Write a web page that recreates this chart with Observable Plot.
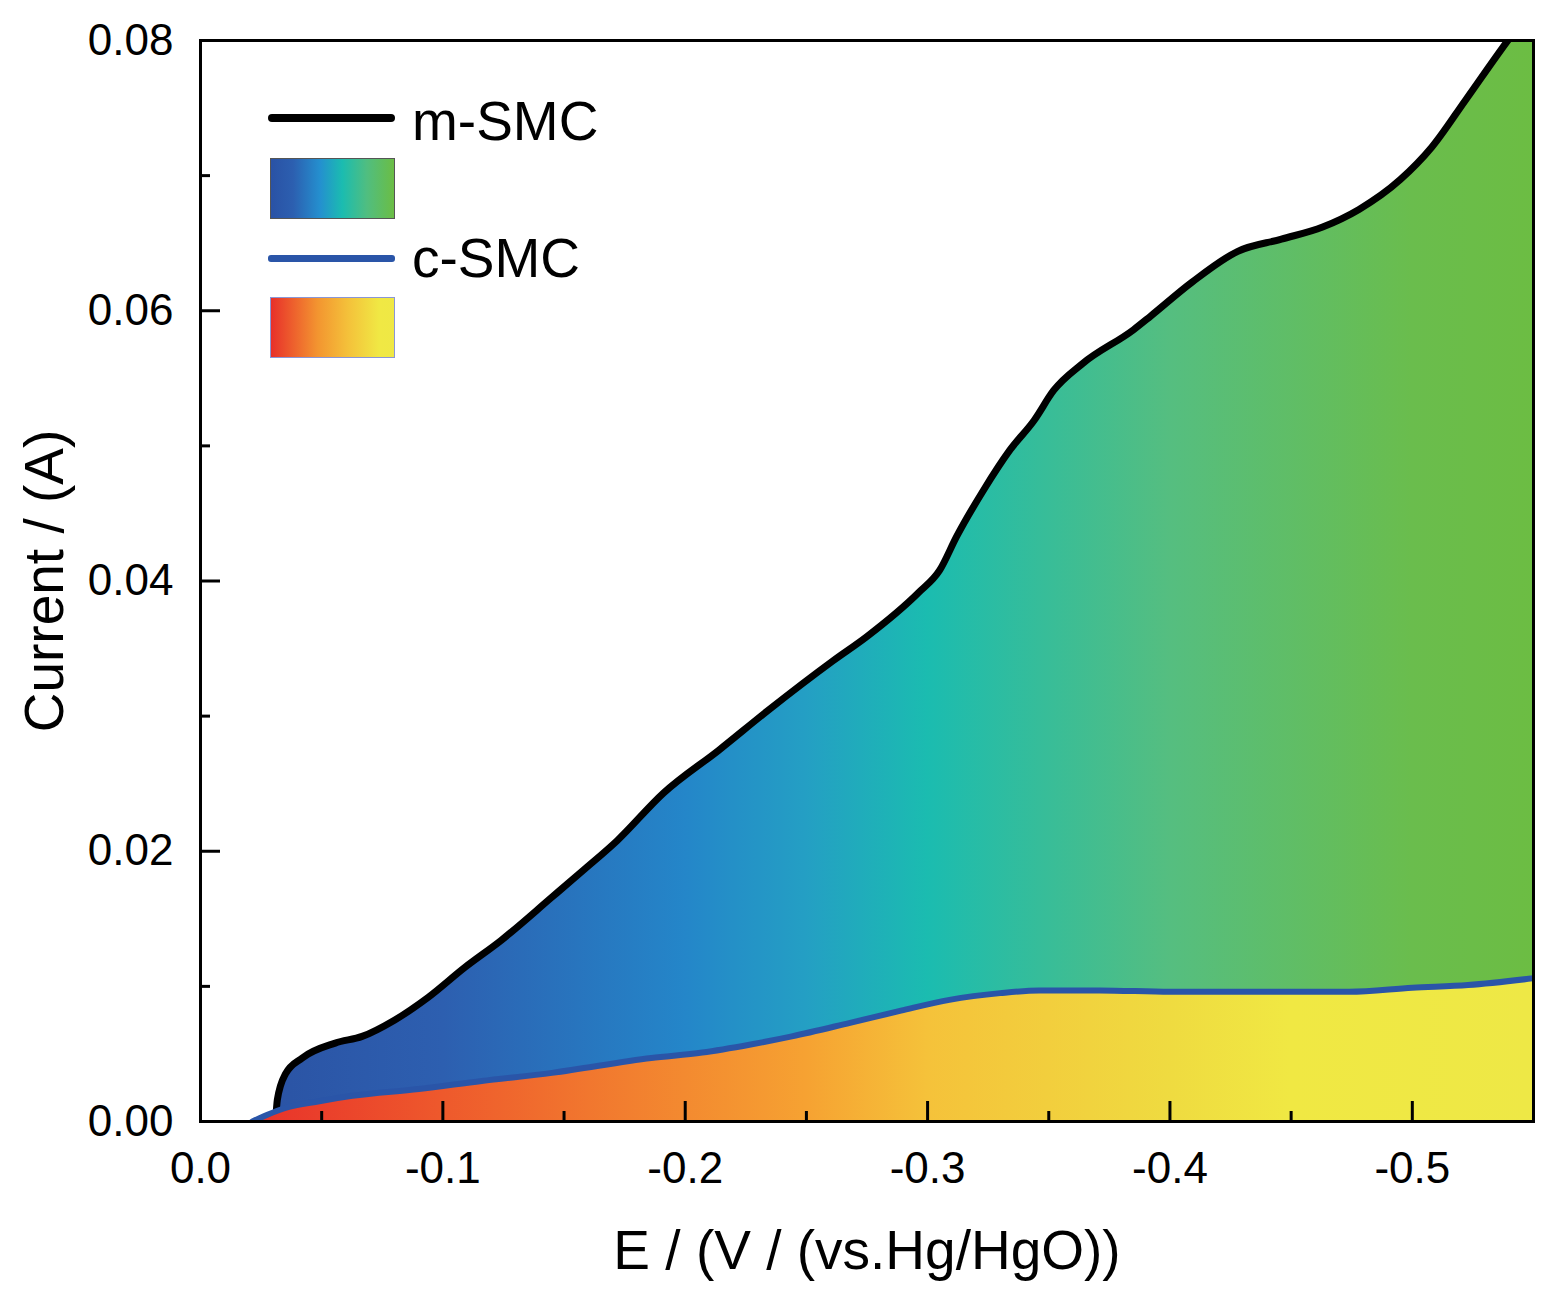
<!DOCTYPE html>
<html>
<head>
<meta charset="utf-8">
<script src="https://cdn.jsdelivr.net/npm/d3@7"></script>
<script src="https://cdn.jsdelivr.net/npm/@observablehq/plot@0.6"></script>
<style>
  body { margin: 0; background: white; font-family: "Liberation Sans", Arial, sans-serif; }
  #wrap { position: relative; width: 1560px; height: 1300px; }
  #legend div { position: absolute; }
  .lab { font-size: 55px; line-height: 55px; color: black; }
</style>
</head>
<body>
<div id="wrap">
  <div id="chart"></div>
  <div id="legend">
    <div style="left:268px;top:114px;width:127px;height:8px;background:#000;border-radius:4px"></div>
    <div class="lab" style="left:412px;top:94px">m-SMC</div>
    <div style="left:270px;top:158px;width:123px;height:59px;border:1.5px solid #555;
      background:linear-gradient(to right,#2a52a5,#2c5fb0 18%,#2490cf 40%,#1bbcb0 58%,#50be80 78%,#6bbd45)"></div>
    <div style="left:268px;top:255px;width:127px;height:7px;background:#2a55a8;border-radius:3px"></div>
    <div class="lab" style="left:412px;top:231px">c-SMC</div>
    <div style="left:270px;top:297px;width:123px;height:59px;border:1.5px solid #8a96d6;
      background:linear-gradient(to right,#e8302a,#f39530 38%,#f4c03a 62%,#f0e844 88%,#efe845)"></div>
  </div>
</div>
<script>
// potential (V vs Hg/HgO) and current (A)
const mE = [-0.031, -0.0317, -0.035, -0.042, -0.0556, -0.0667, -0.080, -0.094, -0.109, -0.124,
  -0.145, -0.158, -0.172, -0.191, -0.214, -0.234, -0.261, -0.275, -0.296, -0.305,
  -0.312, -0.323, -0.334, -0.344, -0.352, -0.364, -0.385, -0.392, -0.409, -0.428,
  -0.446, -0.463, -0.478, -0.495, -0.508, -0.522, -0.539, -0.55]
const mI = [0, 0.0016, 0.0035, 0.0047, 0.0058, 0.0063, 0.0075, 0.0092, 0.0114, 0.0134,
  0.0166, 0.0186, 0.0208, 0.0243, 0.0275, 0.0304, 0.0341, 0.0359, 0.0391, 0.0408,
  0.0433, 0.0467, 0.0497, 0.0519, 0.0541, 0.0561, 0.0586, 0.0596, 0.0621, 0.0644,
  0.0653, 0.0662, 0.0675, 0.0697, 0.0721, 0.0756, 0.0799, 0.0825]

const cE = [-0.0214, -0.0276, -0.035, -0.049, -0.0626, -0.090, -0.116, -0.145, -0.186, -0.207,
  -0.227, -0.244, -0.268, -0.289, -0.309, -0.330, -0.346, -0.371, -0.400, -0.449,
  -0.474, -0.500, -0.523, -0.55]
const cI = [0, 0.0005, 0.001, 0.0015, 0.0019, 0.0024, 0.003, 0.0036, 0.0047, 0.0051,
  0.0057, 0.0063, 0.0073, 0.0082, 0.009, 0.0095, 0.0097, 0.0097, 0.0096, 0.0096,
  0.0096, 0.0099, 0.0101, 0.0106]

const xMajor = [0, -0.1, -0.2, -0.3, -0.4, -0.5]
const xMinor = [-0.05, -0.15, -0.25, -0.35, -0.45]
const yMajor = [0, 0.02, 0.04, 0.06, 0.08]
const yMinor = [0.01, 0.03, 0.05, 0.07]

// gradient colour stops along the potential axis
const mStops = [[0, "#2a4fa0"], [-0.1, "#2d5fb0"], [-0.2, "#2486c9"], [-0.25, "#249fc4"],
  [-0.3, "#1bbcb0"], [-0.4, "#55be80"], [-0.5, "#6abd4d"], [-0.55, "#6cbd43"]]
const cStops = [[0, "#e6262a"], [-0.1, "#ee592c"], [-0.2, "#f38a30"], [-0.25, "#f6a232"],
  [-0.3, "#f5c23a"], [-0.4, "#efdb40"], [-0.45, "#f0e843"], [-0.55, "#eee846"]]

const mData = mE.map((e, i) => ({e, i: mI[i]}))
const cData = cE.map((e, i) => ({e, i: cI[i]}))

function gradients(index, scales) {
  const defs = d3.create("svg:defs")
  for (const [id, stops] of [["gradM", mStops], ["gradC", cStops]]) {
    const g = defs.append("linearGradient").attr("id", id)
      .attr("gradientUnits", "userSpaceOnUse")
      .attr("x1", scales.x(0)).attr("x2", scales.x(-0.55)).attr("y1", 0).attr("y2", 0)
    stops.forEach(([v, col]) => g.append("stop").attr("offset", v / -0.55).attr("stop-color", col))
  }
  return defs.node()
}

const chart = Plot.plot({
  width: 1560,
  height: 1300,
  marginLeft: 200,
  marginRight: 27,
  marginTop: 40,
  marginBottom: 179,
  style: {fontFamily: "Liberation Sans, Arial, sans-serif", background: "white"},
  x: {domain: [0, -0.55]},
  y: {domain: [0, 0.08]},
  marks: [
    gradients,
    Plot.areaY(mData, {x: "e", y: "i", fill: "url(#gradM)", curve: "monotone-x", clip: true}),
    Plot.lineY(mData, {x: "e", y: "i", stroke: "black", strokeWidth: 7, curve: "monotone-x", clip: true}),
    Plot.areaY(cData, {x: "e", y: "i", fill: "url(#gradC)", curve: "monotone-x", clip: true}),
    Plot.lineY(cData, {x: "e", y: "i", stroke: "#2a55a8", strokeWidth: 6, curve: "monotone-x", clip: true}),
    Plot.frame({stroke: "black", strokeWidth: 3}),
    Plot.axisX(xMajor, {tickSize: -20, strokeWidth: 3, tickFormat: () => "", label: null}),
    Plot.axisX(xMinor, {tickSize: -10, strokeWidth: 3, tickFormat: () => "", label: null}),
    Plot.axisX(xMajor, {tickSize: 0, tickPadding: 30, fontSize: 44, tickFormat: d => d.toFixed(1), label: null}),
    Plot.axisY(yMajor, {tickSize: -20, strokeWidth: 3, tickFormat: () => "", label: null}),
    Plot.axisY(yMinor, {tickSize: -10, strokeWidth: 3, tickFormat: () => "", label: null}),
    Plot.axisY(yMajor, {tickSize: 0, tickPadding: 27, fontSize: 44, tickFormat: d => d.toFixed(2), label: null}),
    Plot.text(["E / (V / (vs.Hg/HgO))"], {frameAnchor: "bottom", lineAnchor: "middle", textAnchor: "middle", dy: 130, fontSize: 55, fill: "black"}),
    Plot.text(["Current / (A)"], {frameAnchor: "left", textAnchor: "middle", lineAnchor: "middle", dx: -155, rotate: -90, fontSize: 55, fill: "black"})
  ]
})
d3.select("#chart").append(() => chart)
</script>
</body>
</html>
